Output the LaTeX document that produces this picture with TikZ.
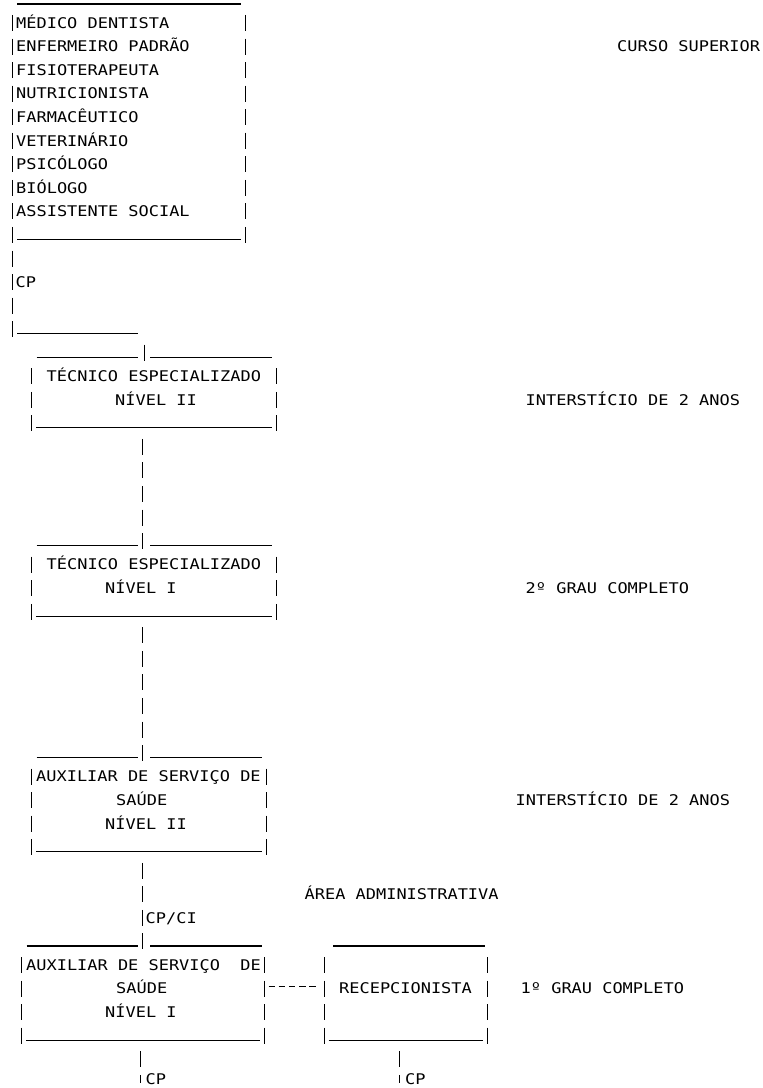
\documentclass[tikz,border=0pt]{standalone}
\usepackage{fontspec}
\setmonofont[FakeStretch=1.153]{DejaVu Sans Mono}
\tikzset{
  txt/.style={anchor=base west,inner sep=0pt,
    font=\ttfamily\fontsize{14.7pt}{14.7pt}\selectfont},
  bar/.style={line width=1.2pt},
  pipes/.style={line width=1.2pt,dash pattern=on 16pt off 7.55pt},
  hyphens/.style={line width=1.2pt,dash pattern=on 6.5pt off 3.7pt},
}
\def\basel{0.225} % baseline below the middle of a row
\def\undl{0.19}   % underscore below the middle of a row
\def\halfp{0.34}  % half the length of a pipe

\begin{document}
\begin{tikzpicture}[x=1pt,y=-23.55pt,yshift=24.1pt]
  \useasboundingbox (0pt,-24.1pt) rectangle (763pt,-1112.1pt);

  % CURSO SUPERIOR
  \draw[bar] (17,1+\undl) -- (241,1+\undl);
  \draw[pipes] (245.5,2-\halfp) -- (245.5,11+\halfp);
  \draw[bar] (17.2,11+\undl) -- (240.5,11+\undl);
  \foreach \name [count=\i from 2] in {MÉDICO DENTISTA,ENFERMEIRO PADRÃO,
      FISIOTERAPEUTA,NUTRICIONISTA,FARMACÊUTICO,VETERINÁRIO,PSICÓLOGO,
      BIÓLOGO,ASSISTENTE SOCIAL}
    \node[txt] (sup\i) at (16,\i+\basel) {\name};
  \node[txt] (cursup) at (617,3+\basel) {CURSO SUPERIOR};

  % CP
  \coordinate (sup-top) at (12.5,2-\halfp);
  \coordinate (cp-bend) at (12.5,15+\halfp);
  \draw[pipes] (sup-top) -- (cp-bend);
  \node[txt] (cp1) at (15.5,13+\basel) {CP};
  \draw[bar] (17.2,15+\undl) -- (138.3,15+\undl);
  \coordinate (tec2-in) at (144.5,16-\halfp);
  \draw[pipes] (tec2-in) -- ++(0,2*\halfp);

  % TECNICO ESPECIALIZADO II
  \draw[bar] (36.7,16+\undl) -- (138.3,16+\undl)
             (150,16+\undl) -- (271.7,16+\undl);
  \draw[pipes] (31.5,17-\halfp) -- (31.5,19+\halfp)
               (276.5,17-\halfp) -- (276.5,19+\halfp);
  \draw[bar] (36.2,19+\undl) -- (272.2,19+\undl);
  \node[txt] (tec2a) at (46.5,17+\basel) {TÉCNICO ESPECIALIZADO};
  \node[txt] (tec2b) at (115,18+\basel) {NÍVEL II};
  \node[txt] (inter1) at (525.5,18+\basel) {INTERSTÍCIO DE 2 ANOS};
  \coordinate (tec2-out) at (142.5,20-\halfp);
  \coordinate (tec1-in) at (142.5,24+\halfp);
  \draw[pipes] (tec2-out) -- (tec1-in);

  % TECNICO ESPECIALIZADO I
  \draw[bar] (36.7,24+\undl) -- (138.3,24+\undl)
             (150,24+\undl) -- (271.7,24+\undl);
  \draw[pipes] (31.5,25-\halfp) -- (31.5,27+\halfp)
               (276.5,25-\halfp) -- (276.5,27+\halfp);
  \draw[bar] (36.2,27+\undl) -- (272.2,27+\undl);
  \node[txt] (tec1a) at (46.5,25+\basel) {TÉCNICO ESPECIALIZADO};
  \node[txt] (tec1b) at (105,26+\basel) {NÍVEL I};
  \node[txt] (grau2) at (525.5,26+\basel) {2º GRAU COMPLETO};
  \coordinate (tec1-out) at (142.5,28-\halfp);
  \coordinate (aux2-in) at (142.5,33+\halfp);
  \draw[pipes] (tec1-out) -- (aux2-in);

  % AUXILIAR II
  \draw[bar] (36.7,33+\undl) -- (138.3,33+\undl)
             (150,33+\undl) -- (261.7,33+\undl);
  \draw[pipes] (31.5,34-\halfp) -- (31.5,37+\halfp)
               (266.5,34-\halfp) -- (266.5,37+\halfp);
  \draw[bar] (36.2,37+\undl) -- (261.5,37+\undl);
  \node[txt] (aux2a) at (36,34+\basel) {AUXILIAR DE SERVIÇO DE};
  \node[txt] (aux2b) at (116,35+\basel) {SAÚDE};
  \node[txt] (aux2c) at (105,36+\basel) {NÍVEL II};
  \node[txt] (inter2) at (515.5,35+\basel) {INTERSTÍCIO DE 2 ANOS};
  \node[txt] (adm) at (304.5,39+\basel) {ÁREA ADMINISTRATIVA};
  \coordinate (aux2-out) at (142.5,38-\halfp);
  \coordinate (aux1-in) at (142.5,41+\halfp);
  \draw[pipes] (aux2-out) -- (aux1-in);
  \node[txt] (cpci) at (145.5,40+\basel) {CP/CI};

  % AUXILIAR I
  \draw[bar] (26.7,41+\undl) -- (138.3,41+\undl)
             (150,41+\undl) -- (261.7,41+\undl);
  \draw[pipes] (21.5,42-\halfp) -- (21.5,45+\halfp)
               (264.5,42-\halfp) -- (264.5,45+\halfp);
  \draw[bar] (26.2,45+\undl) -- (260,45+\undl);
  \node[txt] (aux1a) at (26,42+\basel) {AUXILIAR DE SERVIÇO\ \ DE};
  \node[txt] (aux1b) at (116,43+\basel) {SAÚDE};
  \node[txt] (aux1c) at (105,44+\basel) {NÍVEL I};
  \coordinate (aux1-out) at (140.5,46-\halfp);
  \draw[pipes] (aux1-out) -- ++(0,4*\halfp);
  \node[txt] (cp2) at (145.5,47+0.08) {CP};

  % RECEPCIONISTA
  \draw[bar] (333.3,41+\undl) -- (485,41+\undl);
  \draw[pipes] (324.5,42-\halfp) -- (324.5,45+\halfp)
               (487.5,42-\halfp) -- (487.5,45+\halfp);
  \draw[bar] (328.5,45+\undl) -- (482.5,45+\undl);
  \node[txt] (recep) at (339,43+\basel) {RECEPCIONISTA};
  \node[txt] (grau1) at (520.5,43+\basel) {1º GRAU COMPLETO};
  \coordinate (aux1-east) at (268.5,43-0.08);
  \coordinate (recep-west) at (315.8,43-0.08);
  \draw[hyphens] (aux1-east) -- (recep-west);
  \coordinate (recep-out) at (399.5,46-\halfp);
  \draw[pipes] (recep-out) -- ++(0,4*\halfp);
  \node[txt] (cp3) at (405,47+0.08) {CP};
\end{tikzpicture}
\end{document}
